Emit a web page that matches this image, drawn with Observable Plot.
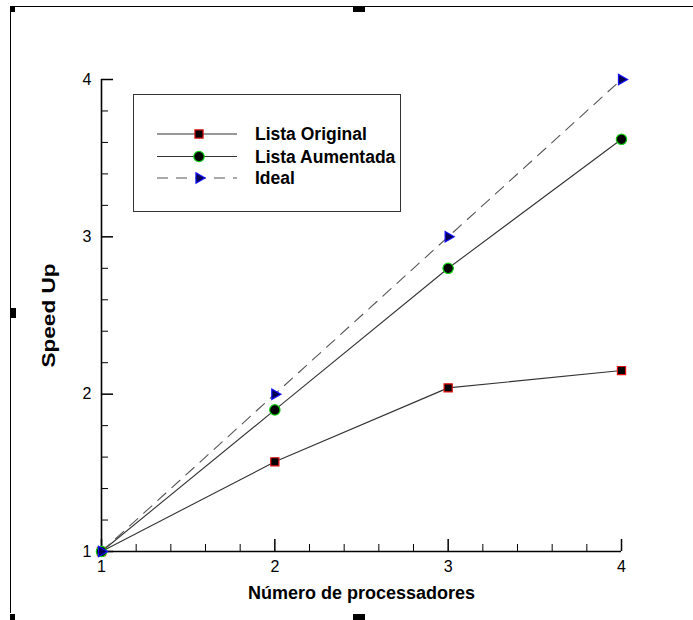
<!DOCTYPE html>
<html><head><meta charset="utf-8">
<script src="https://cdn.jsdelivr.net/npm/d3@7"></script>
<script src="https://cdn.jsdelivr.net/npm/@observablehq/plot@0.6"></script>
<style>
body{margin:0;background:#fff;}
#wrap{position:relative;width:693px;height:620px;font-family:"Liberation Sans",Arial,sans-serif;overflow:hidden;}
#wrap svg{display:block;}
.deco{position:absolute;background:#000;}
#legend{position:absolute;left:133px;top:94px;}
</style>
</head><body>
<div id="wrap"></div>
<script>
// ---- data ----
const processadores = [1, 2, 3, 4];
const listaOriginal = [1.00, 1.57, 2.04, 2.15];
const listaAumentada = [1.00, 1.90, 2.80, 3.62];
const ideal = [1, 2, 3, 4];
const seriesNames = ["Lista Original", "Lista Aumentada", "Ideal"];
const xTicks = [1, 2, 3, 4];
const yTicks = [1, 2, 3, 4];
const xMinor = [1.2, 1.4, 1.6, 1.8, 2.2, 2.4, 2.6, 2.8, 3.2, 3.4, 3.6, 3.8];
const yMinor = [1.2, 1.4, 1.6, 1.8, 2.2, 2.4, 2.6, 2.8, 3.2, 3.4, 3.6, 3.8];
const xLabel = "Número de processadores";
const yLabel = "Speed Up";

// ---- styles per series ----
const styles = {
  "Lista Original": {symbol: "square", r: 4.6, fill: "#000", stroke: "#e01010", line: "#333", dash: null, rotate: 0},
  "Lista Aumentada": {symbol: "circle", r: 5.2, fill: "#000", stroke: "#10d010", line: "#333", dash: null, rotate: 0},
  "Ideal": {symbol: "triangle", r: 3.9, fill: "#000050", stroke: "#1010ff", line: "#555", dash: "11,8", rotate: 90}
};
const valuesBySeries = {"Lista Original": listaOriginal, "Lista Aumentada": listaAumentada, "Ideal": ideal};
const rows = seriesNames.flatMap(s => processadores.map((x, i) => ({series: s, x, y: valuesBySeries[s][i]})));

const marks = [
  Plot.ruleX([1], {strokeWidth: 1.6}),
  Plot.ruleY([1], {strokeWidth: 1.6}),
  Plot.axisX({ticks: xTicks, tickSize: -12, tickPadding: 21, strokeWidth: 1.5, fontSize: 16, label: null, tickFormat: d => String(d)}),
  Plot.axisX({ticks: xMinor, tickSize: -7, tickPadding: 21, strokeWidth: 1, label: null, tickFormat: () => ""}),
  Plot.axisY({ticks: yTicks, tickSize: -12, tickPadding: 22, strokeWidth: 1.5, fontSize: 16, label: null, tickFormat: d => String(d)}),
  Plot.axisY({ticks: yMinor, tickSize: -7, tickPadding: 22, strokeWidth: 1, label: null, tickFormat: () => ""})
];
for (const s of seriesNames) {
  const st = styles[s];
  const data = rows.filter(d => d.series === s);
  marks.push(Plot.line(data, {x: "x", y: "y", stroke: st.line, strokeWidth: 1.1, strokeDasharray: st.dash}));
}
for (const s of seriesNames) {
  const st = styles[s];
  const data = rows.filter(d => d.series === s);
  marks.push(Plot.dot(data, {x: "x", y: "y", symbol: () => st.symbol, r: st.r, fill: st.fill, stroke: st.stroke, strokeWidth: 1.2, rotate: st.rotate}));
}
marks.push(Plot.text([xLabel], {frameAnchor: "bottom", dy: 47, fontSize: 18, fontWeight: "bold", fill: "#000"}));
marks.push(Plot.text([yLabel], {frameAnchor: "left", textAnchor: "middle", dx: -52, rotate: -90, fontSize: 18, fontWeight: "bold", fill: "#000"}));

const chart = Plot.plot({
  width: 693, height: 620,
  marginLeft: 101, marginRight: 72, marginTop: 79, marginBottom: 69,
  x: {domain: [1, 4], axis: null},
  y: {domain: [1, 4], axis: null},
  symbol: {type: "identity"},
  style: {fontFamily: "'Liberation Sans', Arial, sans-serif", fontSize: "16px", color: "#000", background: "#fff"},
  marks
});
// stretch the rotated y label like the reference (taller glyphs)
d3.select(chart).selectAll("text").filter(function() { return this.textContent === yLabel; })
  .attr("textLength", 104).attr("lengthAdjust", "spacingAndGlyphs");
const wrap = document.getElementById("wrap");
wrap.appendChild(chart);

// ---- decorative frame and handles ----
const decos = [
  [10, 6, 683, 1], [10, 6, 1, 607],
  [10, 6, 5, 6], [353, 6, 12, 6], [10, 308, 6, 10], [10, 614, 5, 6], [353, 614, 12, 6]
];
for (const [l, t, w, h] of decos) {
  const d = document.createElement("div");
  d.className = "deco";
  Object.assign(d.style, {left: l + "px", top: t + "px", width: w + "px", height: h + "px"});
  wrap.appendChild(d);
}

// ---- legend ----
const lw = 268, lh = 118;
const leg = d3.select(wrap).append("svg").attr("id", "legend").attr("width", lw).attr("height", lh);
leg.append("rect").attr("x", 0.5).attr("y", 0.5).attr("width", lw - 1).attr("height", lh - 1).attr("fill", "#fff").attr("stroke", "#333").attr("stroke-width", 1);
const rowY = [40, 62.5, 84];
seriesNames.forEach((s, i) => {
  const st = styles[s];
  const g = leg.append("g").attr("transform", `translate(0,${rowY[i]})`);
  g.append("line").attr("x1", 24).attr("x2", 104).attr("y1", 0).attr("y2", 0)
    .attr("stroke", st.line).attr("stroke-width", 1.1).attr("stroke-dasharray", st.dash);
  const sym = {square: d3.symbolSquare, circle: d3.symbolCircle, triangle: d3.symbolTriangle}[st.symbol];
  g.append("path").attr("d", d3.symbol(sym, Math.PI * st.r * st.r)())
    .attr("transform", `translate(66,0) rotate(${st.rotate})`)
    .attr("fill", st.fill).attr("stroke", st.stroke).attr("stroke-width", 1.2);
  g.append("text").attr("x", 122).attr("y", 0).attr("dy", "0.36em")
    .attr("font-family", "'Liberation Sans', Arial, sans-serif").attr("font-weight", "bold").attr("font-size", 17.5)
    .attr("fill", "#000").text(s);
});
</script>
</body></html>
